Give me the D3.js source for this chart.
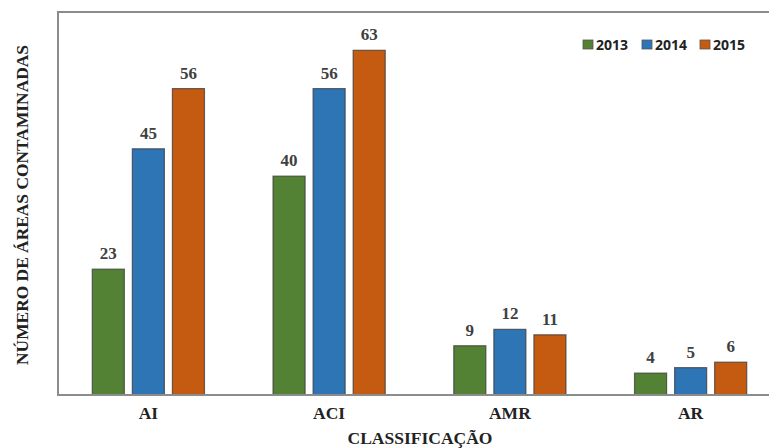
<!DOCTYPE html>
<html>
<head>
<meta charset="utf-8">
<script src="https://cdn.jsdelivr.net/npm/d3@7"></script>
<style>
  html, body { margin: 0; padding: 0; background: #fff; }
  svg { display: block; }
</style>
</head>
<body>
<svg id="chart" width="769" height="448"></svg>
<script>
// Contaminated areas per classification, by year
const categories = ["AI", "ACI", "AMR", "AR"];
const years = ["2013", "2014", "2015"];
const values2013 = [23, 40, 9, 4];
const values2014 = [45, 56, 12, 5];
const values2015 = [56, 63, 11, 6];
const yearColors = ["#548235", "#2e75b6", "#c55a11"];

const seriesValues = [values2013, values2014, values2015];
const rows = categories.map((c, i) => ({
  category: c,
  values: years.map((yr, j) => ({ year: yr, value: seriesValues[j][i], color: yearColors[j] }))
}));

const serif = "'Liberation Serif', 'Times New Roman', serif";
const svg = d3.select("#chart");
const plotLeft = 58, plotTop = 12, plotBottom = 395, plotRight = 781;

const x = d3.scaleBand().domain(categories).range([plotLeft, plotRight]).paddingInner(0).paddingOuter(0);
const xInner = d3.scaleBand().domain(years).range([0, x.bandwidth()]).paddingInner(0.2).paddingOuter(0.856);
const y = d3.scaleLinear().domain([0, 70]).range([plotBottom, plotTop]);

// frame: left and top edges
const frame = svg.append("g").attr("stroke", "#8c8c8c").attr("stroke-width", 2).attr("fill", "none");
frame.append("line").attr("x1", plotLeft).attr("x2", plotLeft).attr("y1", plotTop).attr("y2", plotBottom);
frame.append("line").attr("x1", plotLeft - 1).attr("x2", 769).attr("y1", plotTop).attr("y2", plotTop);

// bars
const groups = svg.append("g").selectAll("g").data(rows).join("g")
  .attr("transform", d => `translate(${x(d.category)},0)`);

groups.selectAll("rect").data(d => d.values).join("rect")
  .attr("x", d => xInner(d.year))
  .attr("width", xInner.bandwidth())
  .attr("y", d => y(d.value))
  .attr("height", d => y(0) - y(d.value))
  .attr("fill", d => d.color)
  .attr("stroke", "#3a3a3a")
  .attr("stroke-opacity", 0.75)
  .attr("stroke-width", 1.2);

groups.selectAll("text").data(d => d.values).join("text")
  .attr("x", d => xInner(d.year) + xInner.bandwidth() / 2)
  .attr("y", d => y(d.value) - 10)
  .attr("text-anchor", "middle")
  .attr("font-family", serif)
  .attr("font-weight", "bold")
  .attr("font-size", 17)
  .attr("fill", "#404040")
  .text(d => d.value);

// x axis
const xAxis = d3.axisBottom(x).tickSize(0).tickPadding(12);
const axG = svg.append("g").attr("transform", `translate(0,${plotBottom})`).call(xAxis);
axG.select(".domain").attr("stroke", "#8c8c8c").attr("stroke-width", 2).attr("d", `M${plotLeft - 1},0H769`);
axG.selectAll("text")
  .attr("font-family", serif)
  .attr("font-weight", "bold")
  .attr("font-size", 17.5)
  .attr("fill", "#222");

// axis titles
svg.append("text")
  .attr("x", 420).attr("y", 443.5)
  .attr("text-anchor", "middle")
  .attr("font-family", serif)
  .attr("font-weight", "bold")
  .attr("font-size", 17.5)
  .attr("fill", "#222")
  .text("CLASSIFICAÇÃO");

svg.append("text")
  .attr("transform", "translate(28,205) rotate(-90)")
  .attr("text-anchor", "middle")
  .attr("font-family", serif)
  .attr("font-weight", "bold")
  .attr("font-size", 17.4)
  .attr("fill", "#222")
  .text("NÚMERO DE ÁREAS CONTAMINADAS");

// legend
const legendX = [583, 642, 700];
const legend = svg.append("g").selectAll("g").data(years).join("g")
  .attr("transform", (d, i) => `translate(${legendX[i]},40)`);
legend.append("rect")
  .attr("width", 10).attr("height", 9)
  .attr("fill", (d, i) => yearColors[i])
  .attr("stroke", "#555").attr("stroke-width", 0.8);
legend.append("text")
  .attr("x", 13).attr("y", 9.5)
  .attr("font-family", "'Open Sans', 'Liberation Sans', sans-serif")
  .attr("font-weight", "bold")
  .attr("font-size", 14)
  .attr("fill", "#222")
  .text(d => d);
</script>
</body>
</html>
